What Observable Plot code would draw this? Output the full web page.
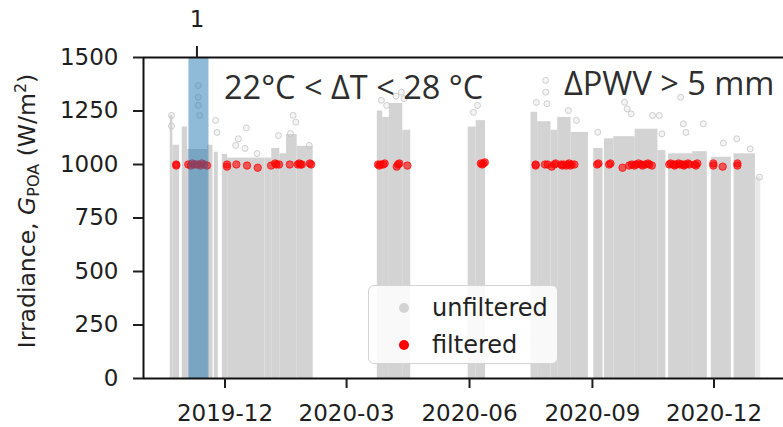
<!DOCTYPE html>
<html>
<head>
<meta charset="utf-8">
<script src="https://cdn.jsdelivr.net/npm/d3@7"></script>
<script src="https://cdn.jsdelivr.net/npm/@observablehq/plot@0.6"></script>
<style>
  html, body { margin: 0; padding: 0; background: #fff; }
  #wrap { position: relative; width: 783px; height: 427px; overflow: hidden; }
  #wrap svg { position: absolute; left: 0; top: 0; }
  .ylab { position: absolute; left: 28px; top: 211px; transform: translate(-50%, -50%) rotate(-90deg);
          white-space: nowrap; font-family: "DejaVu Sans"; font-size: 23.5px; color: #222; }
  .ylab sub, .ylab sup { font-size: 16px; }
  .ylab sub { vertical-align: -4px; }
  .ylab sup { vertical-align: 9px; line-height: 0; }
  .ann { position: absolute; font-family: "Open Sans"; font-size: 32.5px; color: #2e2e2e; white-space: nowrap; line-height: 1; }
  .legend { position: absolute; left: 368px; top: 285px; width: 190px; height: 79px; box-sizing: border-box;
            border: 1.5px solid #d4d4d4; border-radius: 6px; background: rgba(255,255,255,0.85); }
  .lg-row { position: absolute; left: 0; font-family: "DejaVu Sans"; font-size: 24px; color: #222; line-height: 1; }
  .lg-dot { position: absolute; width: 10px; height: 10px; border-radius: 50%; }
</style>
</head>
<body>
<div id="wrap"></div>
<script>
// ---------- data ----------
const xTicks = ["2019-12-01", "2020-03-01", "2020-06-01", "2020-09-01", "2020-12-01"];
const yTicks = [0, 250, 500, 750, 1000, 1250, 1500];
const xDomain = ["2019-10-01", "2021-01-22"];
const yDomain = [0, 1500];

// unfiltered (dense gray) data: day ranges and peak irradiance
const grayStart = ["2019-10-21","2019-10-23","2019-10-30","2019-11-03","2019-11-18","2019-11-23",
  "2019-11-29","2019-12-03","2019-12-31","2020-01-05","2020-01-11","2020-01-16","2020-01-24",
  "2020-03-24","2020-03-28","2020-04-02","2020-04-12",
  "2020-05-31","2020-06-06",
  "2020-07-17","2020-07-22","2020-08-01","2020-08-06","2020-08-16",
  "2020-09-02","2020-09-10","2020-09-17","2020-10-03","2020-10-20",
  "2020-10-28","2020-11-15","2020-11-29","2020-12-16"];
const grayEnd = ["2019-10-23","2019-10-28","2019-11-03","2019-11-18","2019-11-22","2019-11-26",
  "2019-12-03","2019-12-31","2020-01-05","2020-01-11","2020-01-16","2020-01-24","2020-02-05",
  "2020-03-28","2020-04-02","2020-04-12","2020-04-18",
  "2020-06-06","2020-06-13",
  "2020-07-22","2020-08-01","2020-08-06","2020-08-16","2020-08-29",
  "2020-09-09","2020-09-17","2020-10-03","2020-10-20","2020-10-26",
  "2020-11-15","2020-11-26","2020-12-14","2021-01-01"];
const grayTop = [1229,1090,1175,1070,1090,1057,
  1047,1030,1030,1075,1050,1140,1085,
  1250,1220,1285,1160,
  1175,1205,
  1244,1200,1160,1220,1150,
  1075,1120,1130,1165,1065,
  1050,1060,1034,1050];

// sparse unfiltered data at the end
const sparseStart = ["2021-01-01"];
const sparseEnd = ["2021-01-05"];
const sparseTop = [940];

// isolated unfiltered points above the dense band
const outDates = ["2019-10-22","2019-10-22","2019-11-11","2019-11-11","2019-11-11","2019-11-12","2019-11-24","2019-11-25",
  "2019-12-09","2019-12-11","2019-12-17","2019-12-16","2019-12-25","2020-01-10","2020-01-19","2020-01-21","2020-01-23","2020-02-02",
  "2020-03-27","2020-03-31","2020-04-07","2020-04-11","2020-04-13","2020-06-04","2020-06-07",
  "2020-07-21","2020-07-28","2020-07-28","2020-07-29","2020-08-14","2020-08-20",
  "2020-09-05","2020-09-25","2020-09-27","2020-09-30","2020-10-16","2020-10-21","2020-10-23",
  "2020-11-06","2020-11-08","2020-11-10","2020-11-23","2020-12-08","2020-12-18","2020-12-28","2021-01-04"];
const outValues = [1229,1180,1314,1369,1276,1230,1206,1150,
  1089,1120,1171,1075,1051,1135,1145,1230,1198,1089,
  1300,1276,1320,1338,1308,1244,1276,
  1290,1393,1338,1284,1252,1206,
  1151,1291,1260,1237,1229,1229,1143,
  1314,1190,1150,1190,1100,1120,1073,941];

// filtered points
const redDates = [
  "2019-10-25","2019-10-25",
  "2019-11-03","2019-11-05","2019-11-06","2019-11-08","2019-11-10","2019-11-12","2019-11-13","2019-11-15","2019-11-17",
  "2019-12-02","2019-12-02","2019-12-09","2019-12-17","2019-12-25",
  "2020-01-04","2020-01-07","2020-01-08","2020-01-10","2020-01-18",
  "2020-01-24","2020-01-25","2020-01-26","2020-01-27","2020-02-02","2020-02-03",
  "2020-03-24","2020-03-25","2020-03-26","2020-03-28","2020-03-29","2020-04-07","2020-04-08","2020-04-09","2020-04-15",
  "2020-06-09","2020-06-10","2020-06-11","2020-06-12",
  "2020-07-20","2020-07-20","2020-07-27","2020-07-29","2020-08-01","2020-08-03","2020-08-04",
  "2020-08-08","2020-08-09","2020-08-10","2020-08-12","2020-08-13","2020-08-14","2020-08-15","2020-08-16","2020-08-18",
  "2020-09-04","2020-09-05","2020-09-13","2020-09-14","2020-09-23",
  "2020-09-28","2020-09-30","2020-10-02","2020-10-03","2020-10-05","2020-10-07","2020-10-08","2020-10-10","2020-10-12","2020-10-13","2020-10-15",
  "2020-10-28","2020-10-29","2020-10-31","2020-11-01","2020-11-02","2020-11-04","2020-11-05","2020-11-07","2020-11-08","2020-11-09","2020-11-11","2020-11-12",
  "2020-11-16","2020-11-17","2020-11-18","2020-11-30","2020-11-30","2020-12-07","2020-12-18","2020-12-18"];
const redValues = [
  1000,995,
  1000,995,1005,1000,1000,995,1005,1000,995,
  1000,990,1000,995,985,
  995,1005,1000,1000,1000,
  1000,1005,1000,1000,1005,1000,
  1000,995,1000,1000,1005,990,1000,1005,995,
  1005,1000,1005,1010,
  1000,995,1000,1000,990,1000,1005,
  1000,995,1000,995,1000,1005,995,1000,1000,
  1000,1005,1000,1005,985,
  995,1000,995,1000,1005,1000,995,1000,1005,1000,995,
  1000,1005,1000,995,1000,1005,1000,1000,995,1000,1005,1000,
  1000,995,1005,995,1005,990,1005,995];

// highlighted window
const spanStart = ["2019-11-04"];
const spanEnd = ["2019-11-19"];
const spanTick = ["2019-11-10"];
const spanLabel = ["1"];

// ---------- build ----------
const D = s => new Date(s + "T00:00:00Z");
const gray = grayStart.map((s, i) => ({x1: D(s), x2: D(grayEnd[i]), top: grayTop[i]}));
const sparse = sparseStart.map((s, i) => ({x1: D(s), x2: D(sparseEnd[i]), top: sparseTop[i]}));
const outs = outDates.map((s, i) => ({x: D(s), y: outValues[i]}));
const reds = redDates.map((s, i) => ({x: new Date(D(s).getTime() + 12 * 3600e3), y: redValues[i]}));
const spans = spanStart.map((s, i) => ({x1: D(s), x2: D(spanEnd[i])}));
const spanTicks = spanTick.map((s, i) => ({x: D(s), label: spanLabel[i]}));

const plot = Plot.plot({
  width: 783,
  height: 427,
  marginTop: 57,
  marginLeft: 143,
  marginRight: 0,
  marginBottom: 49,
  style: {fontFamily: "DejaVu Sans", fontSize: "23px", color: "#1e1e1e", background: "transparent"},
  x: {type: "utc", domain: xDomain.map(D)},
  y: {domain: yDomain},
  marks: [
    Plot.rect(gray, {x1: "x1", x2: "x2", y1: 0, y2: "top", fill: "#d3d3d3", inset: 0}),
    Plot.rect(sparse, {x1: "x1", x2: "x2", y1: 0, y2: "top", fill: "#d3d3d3", fillOpacity: 0.5, inset: 0}),
    Plot.dot(outs, {x: "x", y: "y", r: 3, fill: "#d3d3d3", fillOpacity: 0.25, stroke: "#c4c4c4", strokeOpacity: 0.8, strokeWidth: 1}),
    Plot.dot(reds, {x: "x", y: "y", r: 3.7, fill: "red", fillOpacity: 0.6, stroke: "red", strokeOpacity: 0.7, strokeWidth: 1}),
    Plot.rect(spans, {x1: "x1", x2: "x2", fill: "#1f77b4", fillOpacity: 0.5, inset: 0}),
    Plot.ruleY([yDomain[0], yDomain[1]], {stroke: "#111", strokeWidth: 2}),
    Plot.ruleX([D(xDomain[0])], {stroke: "#111", strokeWidth: 2}),
    Plot.axisY({ticks: yTicks, tickFormat: d => String(d), tickSize: 10, tickPadding: 15, label: null, strokeWidth: 2, fontSize: 23}),
    Plot.axisX({ticks: xTicks.map(D), tickFormat: d3.utcFormat("%Y-%m"), tickSize: 10, tickPadding: 16, label: null, strokeWidth: 2, fontSize: 23}),
    Plot.axisX({anchor: "top", ticks: spanTicks.map(d => d.x), tickFormat: () => "", tickSize: 12, label: null, strokeWidth: 2}),
    Plot.text(spanTicks, {x: "x", text: "label", frameAnchor: "top", dy: -47, fontSize: 23, fill: "#1e1e1e"})
  ]
});

const wrap = document.getElementById("wrap");
wrap.appendChild(plot);

// y label with subscript / superscript
const yl = document.createElement("div");
yl.className = "ylab";
yl.innerHTML = "Irradiance, <i>G</i><sub>POA</sub> (W/m<sup>2</sup>)";
wrap.appendChild(yl);

// annotations
const a1 = document.createElement("div");
a1.className = "ann"; a1.style.left = "224px"; a1.style.top = "71px";
a1.textContent = "22°C < ΔT < 28 °C";
wrap.appendChild(a1);
const a2 = document.createElement("div");
a2.className = "ann"; a2.style.left = "564px"; a2.style.top = "67px";
a2.textContent = "ΔPWV > 5 mm";
wrap.appendChild(a2);

// legend
const lg = document.createElement("div");
lg.className = "legend";
const entries = [["unfiltered", "#d3d3d3"], ["filtered", "red"]];
entries.forEach(([label, color], i) => {
  const dot = document.createElement("div");
  dot.className = "lg-dot";
  dot.style.background = color;
  dot.style.left = (403 - 368 - 5) + "px";
  dot.style.top = (i === 0 ? 307 - 285 - 5 : 344 - 285 - 5) + "px";
  lg.appendChild(dot);
  const t = document.createElement("div");
  t.className = "lg-row";
  t.textContent = label;
  t.style.left = (431 - 368) + "px";
  t.style.top = (i === 0 ? 295 - 285 : 332 - 285) + "px";
  lg.appendChild(t);
});
wrap.appendChild(lg);
</script>
</body>
</html>
